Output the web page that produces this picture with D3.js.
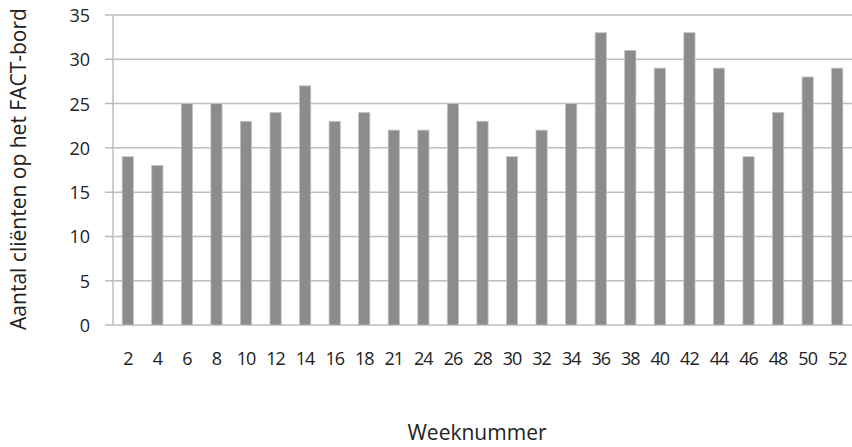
<!DOCTYPE html>
<html>
<head>
<meta charset="utf-8">
<script src="https://cdn.jsdelivr.net/npm/d3@7"></script>
<style>
body { margin: 0; background: #fff; }
text { font-family: "Open Sans", sans-serif; fill: #222; }
</style>
</head>
<body>
<svg id="chart" width="852" height="447"></svg>
<script>
const weeks = ["2","4","6","8","10","12","14","16","18","21","24","26","28","30","32","34","36","38","40","42","44","46","48","50","52"];
const clients = [19,18,25,25,23,24,27,23,24,22,22,25,23,19,22,25,33,31,29,33,29,19,24,28,29];
const yTicks = [0,5,10,15,20,25,30,35];

const svg = d3.select("#chart");
const margin = { top: 15, right: 0, bottom: 122, left: 113 };
const width = +svg.attr("width");
const height = +svg.attr("height");
const plotW = width - margin.left - margin.right;
const plotH = height - margin.top - margin.bottom;

const plot = svg.append("g")
    .attr("transform", `translate(${margin.left},${margin.top})`);

const x = d3.scaleBand().domain(weeks).range([0, plotW]).paddingInner(0.62).paddingOuter(0.31);
const y = d3.scaleLinear().domain([0, 35]).range([plotH, 0]);

// gridlines
plot.selectAll("line.grid").data(yTicks)
    .join("line")
    .attr("class", "grid")
    .attr("x1", -8).attr("x2", plotW)
    .attr("y1", d => y(d)).attr("y2", d => y(d))
    .style("stroke", "#bdbdbd")
    .style("stroke-width", 1.5);

// y tick labels
plot.selectAll("text.ytick").data(yTicks)
    .join("text")
    .attr("class", "ytick")
    .attr("x", -23)
    .attr("y", d => y(d))
    .attr("text-anchor", "end")
    .attr("dominant-baseline", "central")
    .style("font-size", "18px")
    .text(d => d);

// bars
plot.selectAll("rect.bar").data(clients)
    .join("rect")
    .attr("class", "bar")
    .attr("x", (d, i) => x(weeks[i]))
    .attr("y", d => y(d))
    .attr("width", x.bandwidth())
    .attr("height", d => plotH - y(d))
    .style("fill", "#8c8c8c")
    .style("stroke", "#c4c4c4")
    .style("stroke-width", 0.8);

// axis line
plot.append("line")
    .attr("x1", 0).attr("x2", 0)
    .attr("y1", 0).attr("y2", plotH)
    .style("stroke", "#bdbdbd").style("stroke-width", 1.5);

// x tick labels
plot.selectAll("text.xtick").data(weeks)
    .join("text")
    .attr("class", "xtick")
    .attr("x", d => x(d) + x.bandwidth() / 2)
    .attr("y", plotH + 33)
    .attr("text-anchor", "middle")
    .attr("dominant-baseline", "central")
    .style("font-size", "18px")
    .style("letter-spacing", "-1px")
    .text(d => d);

// axis titles
svg.append("text")
    .attr("x", 477)
    .attr("y", 432)
    .attr("text-anchor", "middle")
    .attr("dominant-baseline", "central")
    .style("font-size", "21px")
    .text("Weeknummer");

svg.append("text")
    .attr("transform", "translate(18,169) rotate(-90)")
    .attr("text-anchor", "middle")
    .attr("dominant-baseline", "central")
    .style("font-size", "21px")
    .text("Aantal cliënten op het FACT-bord");
</script>
</body>
</html>
